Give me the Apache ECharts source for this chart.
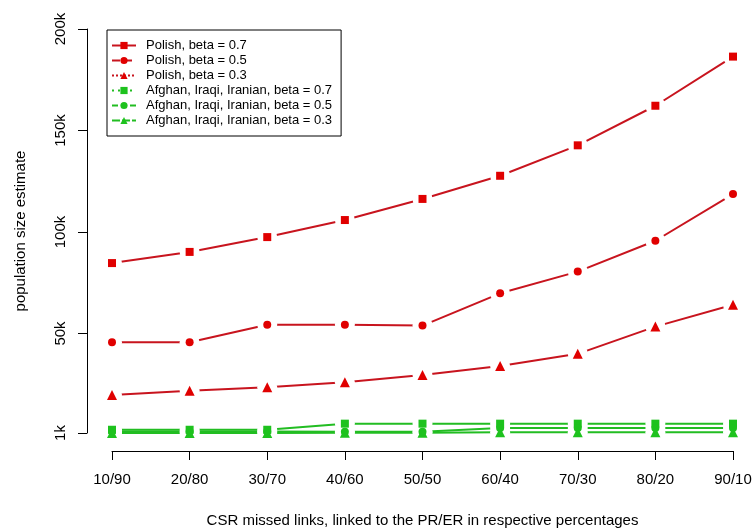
<!DOCTYPE html>
<html><head><meta charset="utf-8">
<script src="https://cdn.jsdelivr.net/npm/echarts@6/dist/echarts.min.js"></script>
<style>html,body{margin:0;padding:0;background:#fff}#c{width:753px;height:530px}</style>
</head><body><div id="c"></div>
<script>
const categories = ['10/90','20/80','30/70','40/60','50/50','60/40','70/30','80/20','90/10'];
const polish07 = [84700, 90200, 97500, 105900, 116300, 127700, 142700, 162200, 186400];
const polish05 = [45700, 45700, 54300, 54300, 53900, 69800, 80500, 95700, 118700];
const polish03 = [19700, 21800, 23500, 26000, 29600, 34000, 40000, 53400, 64200];
const afghan07 = [2600, 2600, 2600, 5600, 5600, 5600, 5600, 5600, 5600];
const afghan05 = [1800, 1800, 1800, 1600, 1600, 3500, 3500, 3500, 3500];
const afghan03 = [1000, 1000, 1000, 1100, 1100, 1400, 1400, 1400, 1400];
const yTicks = [1000, 50000, 100000, 150000, 200000];

const RED = '#e00000', REDLINE = '#c8141e', GREEN = '#1ec21e', GREENLINE = '#22bd22';
const FONT = '"Liberation Sans", Arial, sans-serif';
const defs = [
  {name:'Polish, beta = 0.7', data:polish07, symbol:'rect', size:8, mc:RED, lc:REDLINE, dash:'solid'},
  {name:'Polish, beta = 0.5', data:polish05, symbol:'circle', size:8, mc:RED, lc:REDLINE, dash:'dashed'},
  {name:'Polish, beta = 0.3', data:polish03, symbol:'triangle', size:10, mc:RED, lc:REDLINE, dash:'dotted'},
  {name:'Afghan, Iraqi, Iranian, beta = 0.7', data:afghan07, symbol:'rect', size:8, mc:GREEN, lc:GREENLINE, dash:[2,4]},
  {name:'Afghan, Iraqi, Iranian, beta = 0.5', data:afghan05, symbol:'circle', size:8, mc:GREEN, lc:GREENLINE, dash:[6,3]},
  {name:'Afghan, Iraqi, Iranian, beta = 0.3', data:afghan03, symbol:'triangle', size:10, mc:GREEN, lc:GREENLINE, dash:[8,2]}
];
const series = [];
// legend-only series (no data): give the legend its line + symbol look
defs.forEach((d,i) => series.push({id:'lg'+i, name:d.name, type:'line', data:[], symbol:d.symbol, symbolSize:d.size,
  itemStyle:{color:d.mc}, lineStyle:{color:d.lc, width:2, type:d.dash}}));
// lines with white symbols that open a gap around each point (R type = "b")
defs.forEach((d,i) => series.push({id:'line'+i, name:'l'+i, type:'line', data:d.data,
  symbol:'circle', symbolSize:20, showSymbol:true, showAllSymbol:true,
  itemStyle:{color:'rgb(255,255,255)', borderWidth:0, opacity:1},
  lineStyle:{color:d.lc, width:2}, z:2, silent:true}));
// coloured point markers on top
defs.forEach((d,i) => series.push({id:'mk'+i, name:'m'+i, type:'line', data:d.data, symbol:d.symbol, symbolSize:d.size,
  showSymbol:true, showAllSymbol:true,
  itemStyle:{color:d.mc, borderWidth:0}, lineStyle:{width:0, opacity:0}, z:5}));

const chart = echarts.init(document.getElementById('c'));
chart.setOption({
  animation:false,
  textStyle:{fontFamily:FONT},
  grid:{left:112, right:20, top:29, bottom:97, containLabel:false, outerBoundsMode:'none'},
  legend:{
    orient:'vertical', left:107, top:30, padding:[8,9,8,4],
    borderColor:'#000', borderWidth:1, borderRadius:0, backgroundColor:'#fff',
    itemWidth:24, itemHeight:9, itemGap:0,
    textStyle:{fontSize:13, color:'#000', fontFamily:FONT, lineHeight:15, padding:[0,0,0,5]},
    data: defs.map(d => d.name)
  },
  xAxis:{
    type:'category', data:categories, boundaryGap:false, offset:18,
    axisLine:{lineStyle:{color:'#000', width:1}},
    axisTick:{show:true, length:9, lineStyle:{color:'#000'}},
    axisLabel:{color:'#000', fontSize:15, margin:21, interval:0, fontFamily:FONT},
    splitLine:{show:false},
    name:'CSR missed links, linked to the PR/ER in respective percentages',
    nameLocation:'middle', nameGap:62,
    nameTextStyle:{fontSize:15, color:'#000', fontFamily:FONT}
  },
  yAxis:{
    type:'value', min:1000, max:200000, offset:25,
    axisLine:{show:true, lineStyle:{color:'#000', width:1}},
    axisTick:{show:true, length:9, customValues:yTicks, lineStyle:{color:'#000'}},
    axisLabel:{customValues:yTicks, rotate:90, margin:19, color:'#000', fontSize:15, fontFamily:FONT,
      formatter: v => Math.round(v/1000) + 'k'},
    splitLine:{show:false},
    name:'population size estimate', nameLocation:'middle', nameGap:59,
    nameTextStyle:{fontSize:15, color:'#000', fontFamily:FONT}
  },
  series: series
});
</script>
</body></html>
